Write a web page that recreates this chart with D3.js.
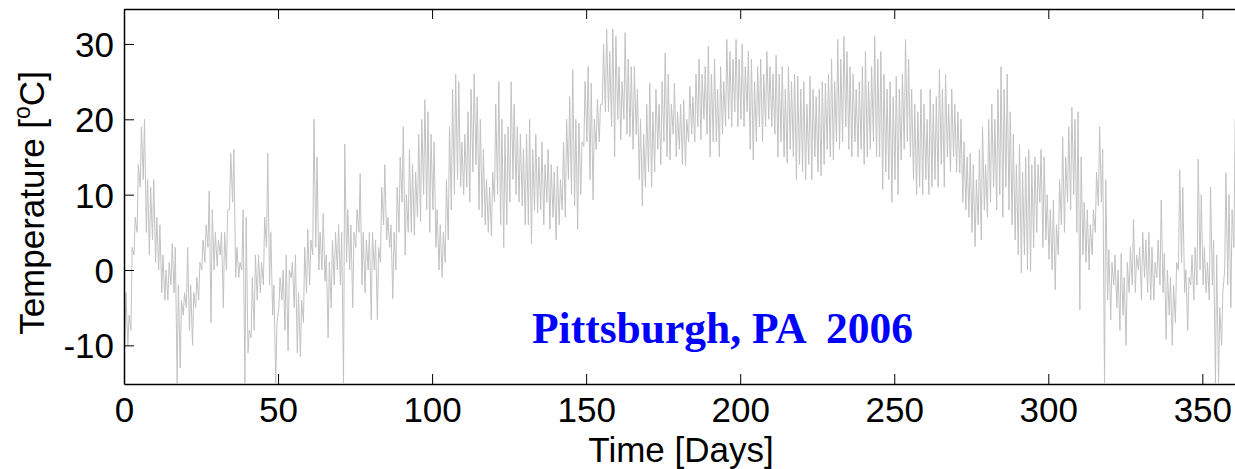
<!DOCTYPE html>
<html>
<head>
<meta charset="utf-8">
<script src="https://cdn.jsdelivr.net/npm/d3@7"></script>
<style>
  html, body { margin: 0; padding: 0; background: #fff; }
  svg { display: block; }
</style>
</head>
<body>
<svg id="chart" width="1235" height="469"></svg>
<script>
// Daily high / low temperatures (°C), day 0 .. 360
const dailyHigh = [
  -3, -6, 3, 7, 14, 19, 20, 12, 11, 12,
  7, 6, 2, 0, 1, 3.5, 3, -2, -4, -3,
  3, -2, -3, -1, 1, 4, 6, 10.5, 8, 5,
  4, 5, 5, 8, 15.5, 16, 3, 1, 8, 7,
  -8, -1, 2, 2, 1, 7, 15.5, 5, -2, -7,
  -1, 0, 2, 0, 1, 2, -3, -4, 3, 5.4,
  4, 20, 15, 5, 7.5, 2, 1, 4, 5, 6,
  5, 16.7, 8, 6, 5, 8, 12.8, 5, 4, 5,
  5, 4, 3, 11, 14, 7, 6, 5, 11, 15,
  19, 10, 16, 14, 13, 18, 20, 22.6, 21, 18,
  17, 8, 6, 5, 12, 19, 24, 26, 25, 17,
  18, 21, 24, 26, 23, 20, 16, 12, 11, 13,
  22, 25, 20, 18, 19, 25, 22, 19, 18, 16,
  18, 20, 16, 18, 15, 17, 14, 16, 14, 13,
  13.8, 12, 17, 20, 23, 26.6, 20, 19.5, 17, 25,
  27, 24.8, 20, 22.6, 22, 30, 32, 29, 32, 31,
  27, 25, 31.5, 28, 27, 27, 24, 20, 18, 22,
  24.8, 21, 24, 22, 25, 28.8, 26, 22, 24.8, 21,
  22, 22.6, 20, 24.4, 23, 26, 28, 26, 27, 29.7,
  26, 28, 24, 27, 25, 30.6, 29, 28, 30.6, 28,
  30, 27, 29, 28, 25, 27, 28, 26, 29, 27,
  26, 28.5, 26, 27, 24, 27, 25, 26, 25.7, 24,
  25, 22, 25.7, 24, 23, 24, 25, 24.8, 26, 28,
  25, 30.6, 28, 31, 29, 27, 26, 24, 25, 27,
  29, 25, 27, 31, 28, 29, 26, 24, 25, 23,
  25.7, 24, 26, 30.6, 28, 24, 22, 21, 24, 22,
  20, 24, 22, 23, 26.6, 24, 26, 22, 24, 22,
  21, 20, 17, 15, 15.5, 14, 12, 16, 19, 14,
  20, 22, 20, 24, 27, 24, 26, 21, 18, 14,
  16.7, 13, 15, 16, 14, 15, 14, 16, 15, 10,
  8, 9.3, 6, 12, 17.7, 15, 19, 21.6, 20, 21,
  15, 9, 8, 6, 8, 13, 19, 16, 12, 2.7,
  1, 2, 0, 2.2, -1, 1, 3, 6.7, 2, 3,
  5, 4, 5, 3, 1, 4, 9.3, 2.2, 0, -1,
  -2, 1, 13.3, 11, 0, -1, 2, 3, 14.7, 10,
  3, 1, 11, 4, 2, -5, -3, 12.9, 10, 8,
  20
];
const dailyLow = [
  -10, -10, -8, 2, 5, 11, 12, 5, 2, 4,
  1, 0, -3, -4, -4, -2, -3, -15, -13, -6,
  -5, -8, -10, -5, -4, 0, 1, 3, -7, 0,
  0.5, 2, -5, 0, 8, 9, -1, -1, 0, -15,
  -11, -9, -8, -4, -3, -2, 3, -2, -6, -15,
  -5, -4, -8, -10.7, -1, -5, -11, -11.5, -7, -3,
  -2, 2, 3, 0, 0, -1.5, -9, -5, -2, 0,
  -2, -15, 1, 0, -5, 3, 5, -2, -3, 0,
  -6.6, 0, -6.6, 1, 6, 4, 3, -3.8, 0, 5,
  9, 2, 5, 5, 4.6, 7, 6.4, 10, 8, 5,
  8, 3, 0, -1, 1, 4, 8, 10, 12, 11,
  10, 11, 9, 13, 14, 8, 7, 6, 5, 4.5,
  9, 10, 6, 3, 6, 9, 12, 10, 9, 8.5,
  6, 6, 3.5, 8, 7.6, 8, 6, 9, 5.4, 7,
  4, 6, 8, 7, 12, 10, 8.5, 5.4, 10, 16.4,
  17, 12, 9.3, 16, 17, 22, 21, 21, 19, 15,
  20, 17.3, 20, 18, 17.7, 16, 18, 12, 8.5, 11,
  13, 11, 13, 16, 14, 17, 15, 14.6, 18, 15,
  16, 14, 13.8, 17, 18, 17, 19, 17.3, 20, 18,
  15, 17, 17, 15, 18, 19, 20, 19, 21, 19,
  20, 19, 21, 16, 14.6, 17, 19, 17, 19, 20,
  19, 18, 15, 17, 15, 14.2, 16, 15, 12, 14,
  13, 12, 14, 12, 15, 13, 12.5, 14, 16, 15,
  14.6, 17, 16, 17, 19, 16, 15, 17, 15, 16,
  14, 15, 16, 17, 15, 15, 10.7, 13, 12, 9,
  12, 10, 14.6, 16, 17, 15, 12, 10, 11, 10,
  12, 10, 11, 12, 11, 14, 11, 15, 13, 15,
  13, 12.9, 9, 8, 7, 5, 3.1, 6, 4, 8,
  7, 9, 11, 8, 10, 7, 11, 8, 6, 4,
  2, -0.4, 2, 0, -0.2, 3, 5, 9, 3, 4,
  1.4, 0, -2.6, 2, 6, 5, 9, 8, 10, 5,
  -5.3, 2, 1, 0, 2, 5, 8.5, 9, -15, -4,
  -6.6, -2, -5, -8, -6, -10, -3, -2, -3, 0,
  -4, -1, -3, -4, -4, -1, -2, -3, -9.2, -6,
  -10, -7, 0, 1, -3, -8, -2, -4, -2, 0,
  -2, -3, -4, -2, -15, -15, -10, 0, -2, -5,
  3
];
const xTicks = [0, 50, 100, 150, 200, 250, 300, 350];
const yTicks = [-10, 0, 10, 20, 30];
const xLabel = "Time [Days]";
const titleText = "Pittsburgh, PA  2006";

const svg = d3.select("#chart");
const plotLeft = 124, plotTop = 9, plotBottom = 384;
const pxPerDay = 3.081;
const x = d3.scaleLinear().domain([0, 365]).range([plotLeft, plotLeft + 365 * pxPerDay]);
const y = d3.scaleLinear().domain([-15.13, 34.64]).range([plotBottom, plotTop]);

// build points: low in early morning, high in afternoon
const pts = [];
dailyHigh.forEach((h, d) => {
  pts.push([d + 0.25, dailyLow[d]]);
  pts.push([d + 0.65, h]);
});

svg.append("defs").append("clipPath").attr("id", "clip")
  .append("rect").attr("x", plotLeft).attr("y", plotTop)
  .attr("width", x(365) - plotLeft).attr("height", plotBottom - plotTop);

svg.append("path")
  .datum(pts)
  .attr("clip-path", "url(#clip)")
  .attr("fill", "none")
  .attr("stroke", "#c2c2c2")
  .attr("stroke-width", 1)
  .attr("d", d3.line().x(p => x(p[0])).y(p => y(p[1])));

const fontSans = "Liberation Sans, Arial, sans-serif";
const plainFmt = d => String(d);

// axes (inside ticks, MATLAB style)
const gB = svg.append("g").attr("transform", `translate(0,${plotBottom})`)
  .call(d3.axisBottom(x).tickValues(xTicks).tickSizeInner(-10).tickSizeOuter(0).tickFormat(plainFmt));
const gT = svg.append("g").attr("transform", `translate(0,${plotTop})`)
  .call(d3.axisTop(x).tickValues(xTicks).tickSizeInner(-10).tickSizeOuter(0).tickFormat(""));
const gL = svg.append("g").attr("transform", `translate(${plotLeft},0)`)
  .call(d3.axisLeft(y).tickValues(yTicks).tickSizeInner(-10).tickSizeOuter(0).tickFormat(plainFmt));

[gB, gT, gL].forEach(g => {
  g.select(".domain").attr("stroke", "#000").attr("stroke-width", 1.5);
  g.selectAll(".tick line").attr("stroke", "#000").attr("stroke-width", 1);
  g.selectAll("text").attr("font-family", fontSans).attr("font-size", 35).attr("fill", "#000");
});
gB.selectAll("text").attr("y", 13).attr("dy", "0.71em");
gL.selectAll("text").attr("x", -10).attr("dy", "0.36em");

// axis labels
svg.append("text")
  .attr("x", 681).attr("y", 462)
  .attr("text-anchor", "middle")
  .attr("font-family", fontSans).attr("font-size", 35)
  .text(xLabel);

const yl = svg.append("text")
  .attr("transform", "translate(44,203) rotate(-90)")
  .attr("text-anchor", "middle")
  .attr("font-family", fontSans).attr("font-size", 35);
yl.append("tspan").text("Temperature [");
yl.append("tspan").attr("font-size", 23).attr("dy", -14).text("o");
yl.append("tspan").attr("dy", 14).text("C]");

// annotation
svg.append("text")
  .attr("x", 532).attr("y", 343)
  .attr("font-family", "Liberation Serif, Times New Roman, serif")
  .attr("font-weight", "bold").attr("font-size", 43.5)
  .attr("fill", "#0000ff")
  .style("white-space", "pre")
  .text(titleText);
</script>
</body>
</html>
